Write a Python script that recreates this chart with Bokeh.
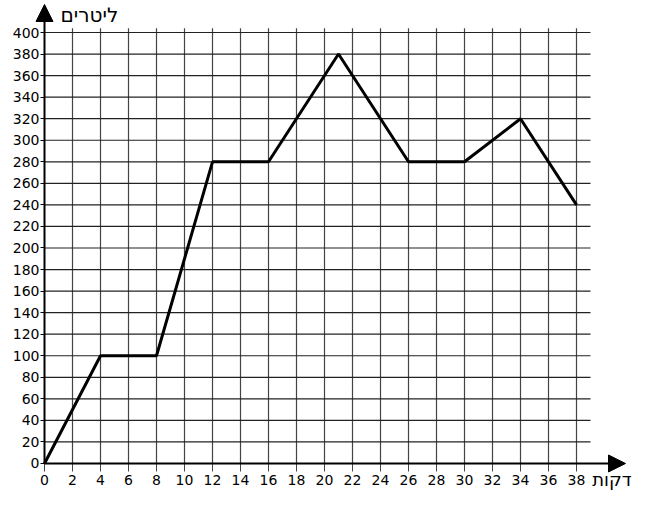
from bokeh.plotting import figure
from bokeh.models import LinearAxis, FixedTicker, Arrow, NormalHead, Range1d
from bokeh.core.properties import value
from bokeh.embed import file_html
from bokeh.resources import INLINE

# data
minutes = [0, 4, 8, 12, 16, 21, 26, 30, 34, 38]
liters = [0, 100, 100, 280, 280, 380, 280, 280, 320, 240]
x_ticks = list(range(0, 39, 2))
y_ticks = list(range(0, 401, 20))
x_label = "דקות"
y_label = "ליטרים"

# layout constants
X_MIN, X_MAX = -3.143, 42.214
Y_MIN, Y_MAX = -25.06, 429.7
GRID_X_END = 39.0
GRID_Y_END = 404.0
X_ARROW = 41.5
Y_ARROW = 426.0
FONT = "DejaVu Sans"

p = figure(width=635, height=490, output_backend="svg", toolbar_location=None,
           x_axis_type=None, y_axis_type=None,
           x_range=Range1d(X_MIN, X_MAX), y_range=Range1d(Y_MIN, Y_MAX),
           min_border=0, min_border_left=0, min_border_right=0,
           min_border_top=0, min_border_bottom=0)
p.outline_line_color = None
p.xgrid.visible = False
p.ygrid.visible = False
p.background_fill_color = "white"
p.border_fill_color = "white"

# grid lines
vx = [t for t in x_ticks if t != 0]
p.segment(x0=vx, y0=[0] * len(vx), x1=vx, y1=[GRID_Y_END] * len(vx),
          line_color="#444444", line_width=1.2)
hy = [t for t in y_ticks if t != 0]
p.segment(x0=[0] * len(hy), y0=hy, x1=[GRID_X_END] * len(hy), y1=hy,
          line_color="#222222", line_width=1.2)

# axes
xaxis = LinearAxis(ticker=FixedTicker(ticks=x_ticks), fixed_location=0)
xaxis.axis_line_color = None
xaxis.major_tick_out = 8
xaxis.major_tick_in = 0
xaxis.major_tick_line_color = "#444444"
xaxis.minor_tick_line_color = None
xaxis.major_label_standoff = 4
xaxis.major_label_text_font = FONT
xaxis.major_label_text_font_size = "14px"
xaxis.major_label_text_color = "black"
p.add_layout(xaxis, "below")

yaxis = LinearAxis(ticker=FixedTicker(ticks=y_ticks), fixed_location=0)
yaxis.axis_line_color = None
yaxis.major_tick_out = 4
yaxis.major_tick_in = 0
yaxis.major_tick_line_color = "black"
yaxis.minor_tick_line_color = None
yaxis.major_label_standoff = 1
yaxis.major_label_text_font = FONT
yaxis.major_label_text_font_size = "14px"
yaxis.major_label_text_color = "black"
p.add_layout(yaxis, "left")

# axis arrows
p.add_layout(Arrow(end=NormalHead(size=17, fill_color="black", line_color="black"),
                   x_start=0, y_start=0, x_end=X_ARROW, y_end=0,
                   line_color="black", line_width=2))
p.add_layout(Arrow(end=NormalHead(size=17, fill_color="black", line_color="black"),
                   x_start=0, y_start=0, x_end=0, y_end=Y_ARROW,
                   line_color="black", line_width=2))

# data line
p.line(minutes, liters, line_color="black", line_width=3)

# axis titles
p.text(x=[0], y=[Y_ARROW], text=[y_label], text_font=value(FONT),
       text_font_size="20px", text_align="left", text_baseline="middle",
       x_offset=16, y_offset=11, text_color="black")
p.text(x=[X_ARROW], y=[0], text=[x_label], text_font=value(FONT),
       text_font_size="18px", text_align="right", text_baseline="middle",
       x_offset=6, y_offset=16, text_color="black")

open("out.html", "w").write(file_html(p, INLINE))
